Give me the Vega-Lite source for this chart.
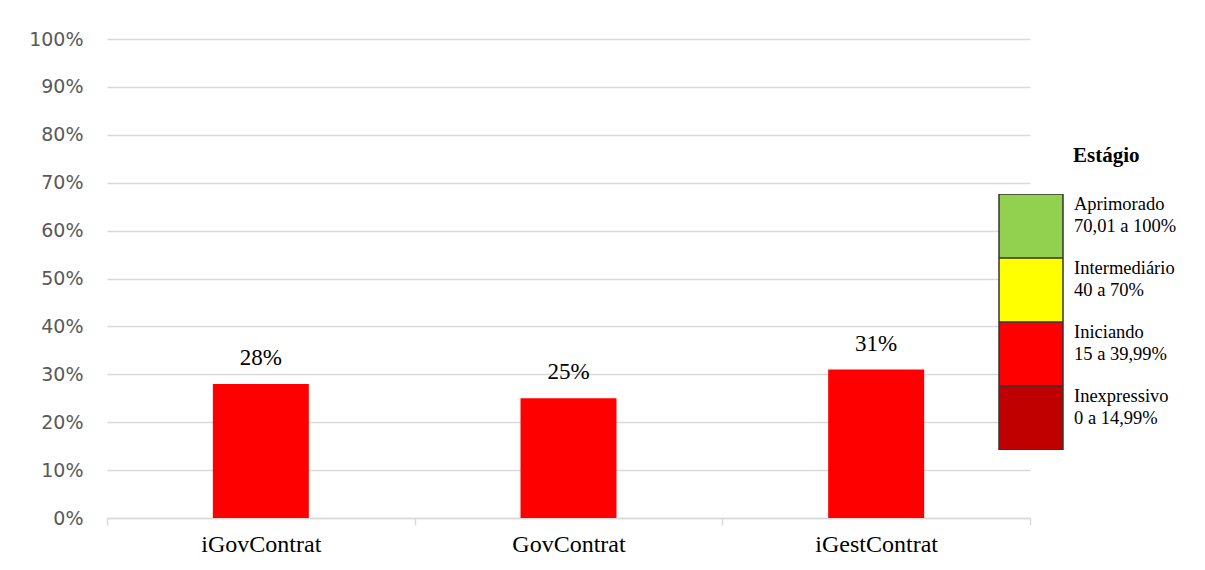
{
  "$schema": "https://vega.github.io/schema/vega-lite/v6.json",
  "width": 923,
  "height": 479,
  "autosize": {"type": "none"},
  "padding": {"left": 107, "top": 39, "right": 175, "bottom": 52},
  "background": "white",
  "config": {
    "view": {"stroke": null},
    "style": {"guide-label": {"lineHeight": -22}}
  },
  "data": {
    "values": [
      {"indicador": "iGovContrat", "valor": 0.28, "estagio": "Iniciando"},
      {"indicador": "GovContrat", "valor": 0.25, "estagio": "Iniciando"},
      {"indicador": "iGestContrat", "valor": 0.31, "estagio": "Iniciando"}
    ]
  },
  "encoding": {
    "x": {
      "field": "indicador",
      "type": "nominal",
      "sort": null,
      "scale": {"type": "band", "paddingInner": 0, "paddingOuter": 0},
      "axis": {
        "title": null,
        "labelAngle": 0,
        "tickBand": "extent",
        "ticks": true,
        "tickSize": 7,
        "tickColor": "#d9d9d9",
        "tickWidth": 1.5,
        "domainColor": "#d9d9d9",
        "domainWidth": 1.5,
        "grid": false,
        "labelFont": "Liberation Serif",
        "labelFontSize": 24,
        "labelColor": "#000000",
        "labelPadding": 7
      }
    },
    "y": {
      "field": "valor",
      "type": "quantitative",
      "scale": {"domain": [0, 1], "nice": false},
      "axis": {
        "title": null,
        "values": [0, 0.1, 0.2, 0.3, 0.4, 0.5, 0.6, 0.7, 0.8, 0.9, 1],
        "format": ".0%",
        "labelFont": "DejaVu Sans",
        "labelFontSize": 19,
        "labelColor": "#595959",
        "ticks": false,
        "tickSize": 0,
        "labelPadding": 24,
        "domain": false,
        "grid": true,
        "gridColor": "#d9d9d9",
        "gridWidth": 1.5
      }
    }
  },
  "layer": [
    {
      "mark": {"type": "bar", "width": {"band": 0.312}},
      "encoding": {
        "color": {
          "field": "estagio",
          "type": "nominal",
          "scale": {
            "domain": ["Aprimorado", "Intermediário", "Iniciando", "Inexpressivo"],
            "range": ["#92d050", "#ffff00", "#ff0000", "#c00000"]
          },
          "legend": {
            "orient": "none",
            "legendX": 858,
            "legendY": 101,
            "title": "Estágio",
            "titleFont": "Liberation Serif",
            "titleFontSize": 21,
            "titleFontWeight": "bold",
            "titleColor": "#000000",
            "titleAnchor": "middle",
            "titleAlign": "left",
            "titlePadding": 28,
            "symbolType": "square",
            "symbolSize": 4096,
            "symbolOffset": 28,
            "symbolStrokeColor": "#333333",
            "symbolStrokeWidth": 1.5,
            "symbolOpacity": 1,
            "clipHeight": 64,
            "rowPadding": 0,
            "labelFont": "Liberation Serif",
            "labelFontSize": 18.5,
            "labelColor": "#000000",
            "labelOffset": 10,
            "labelBaseline": "middle",
            "labelLimit": 250,
            "labelExpr": "datum.label == 'Aprimorado' ? ['70,01 a 100%', 'Aprimorado'] : datum.label == 'Intermediário' ? ['40 a 70%', 'Intermediário'] : datum.label == 'Iniciando' ? ['15 a 39,99%', 'Iniciando'] : ['0 a 14,99%', 'Inexpressivo']",
            "padding": 5
          }
        }
      }
    },
    {
      "mark": {
        "type": "text",
        "baseline": "alphabetic",
        "dy": -19,
        "font": "Liberation Serif",
        "fontSize": 23,
        "color": "#000000"
      },
      "encoding": {
        "text": {"field": "valor", "type": "quantitative", "format": ".0%"}
      }
    }
  ]
}
